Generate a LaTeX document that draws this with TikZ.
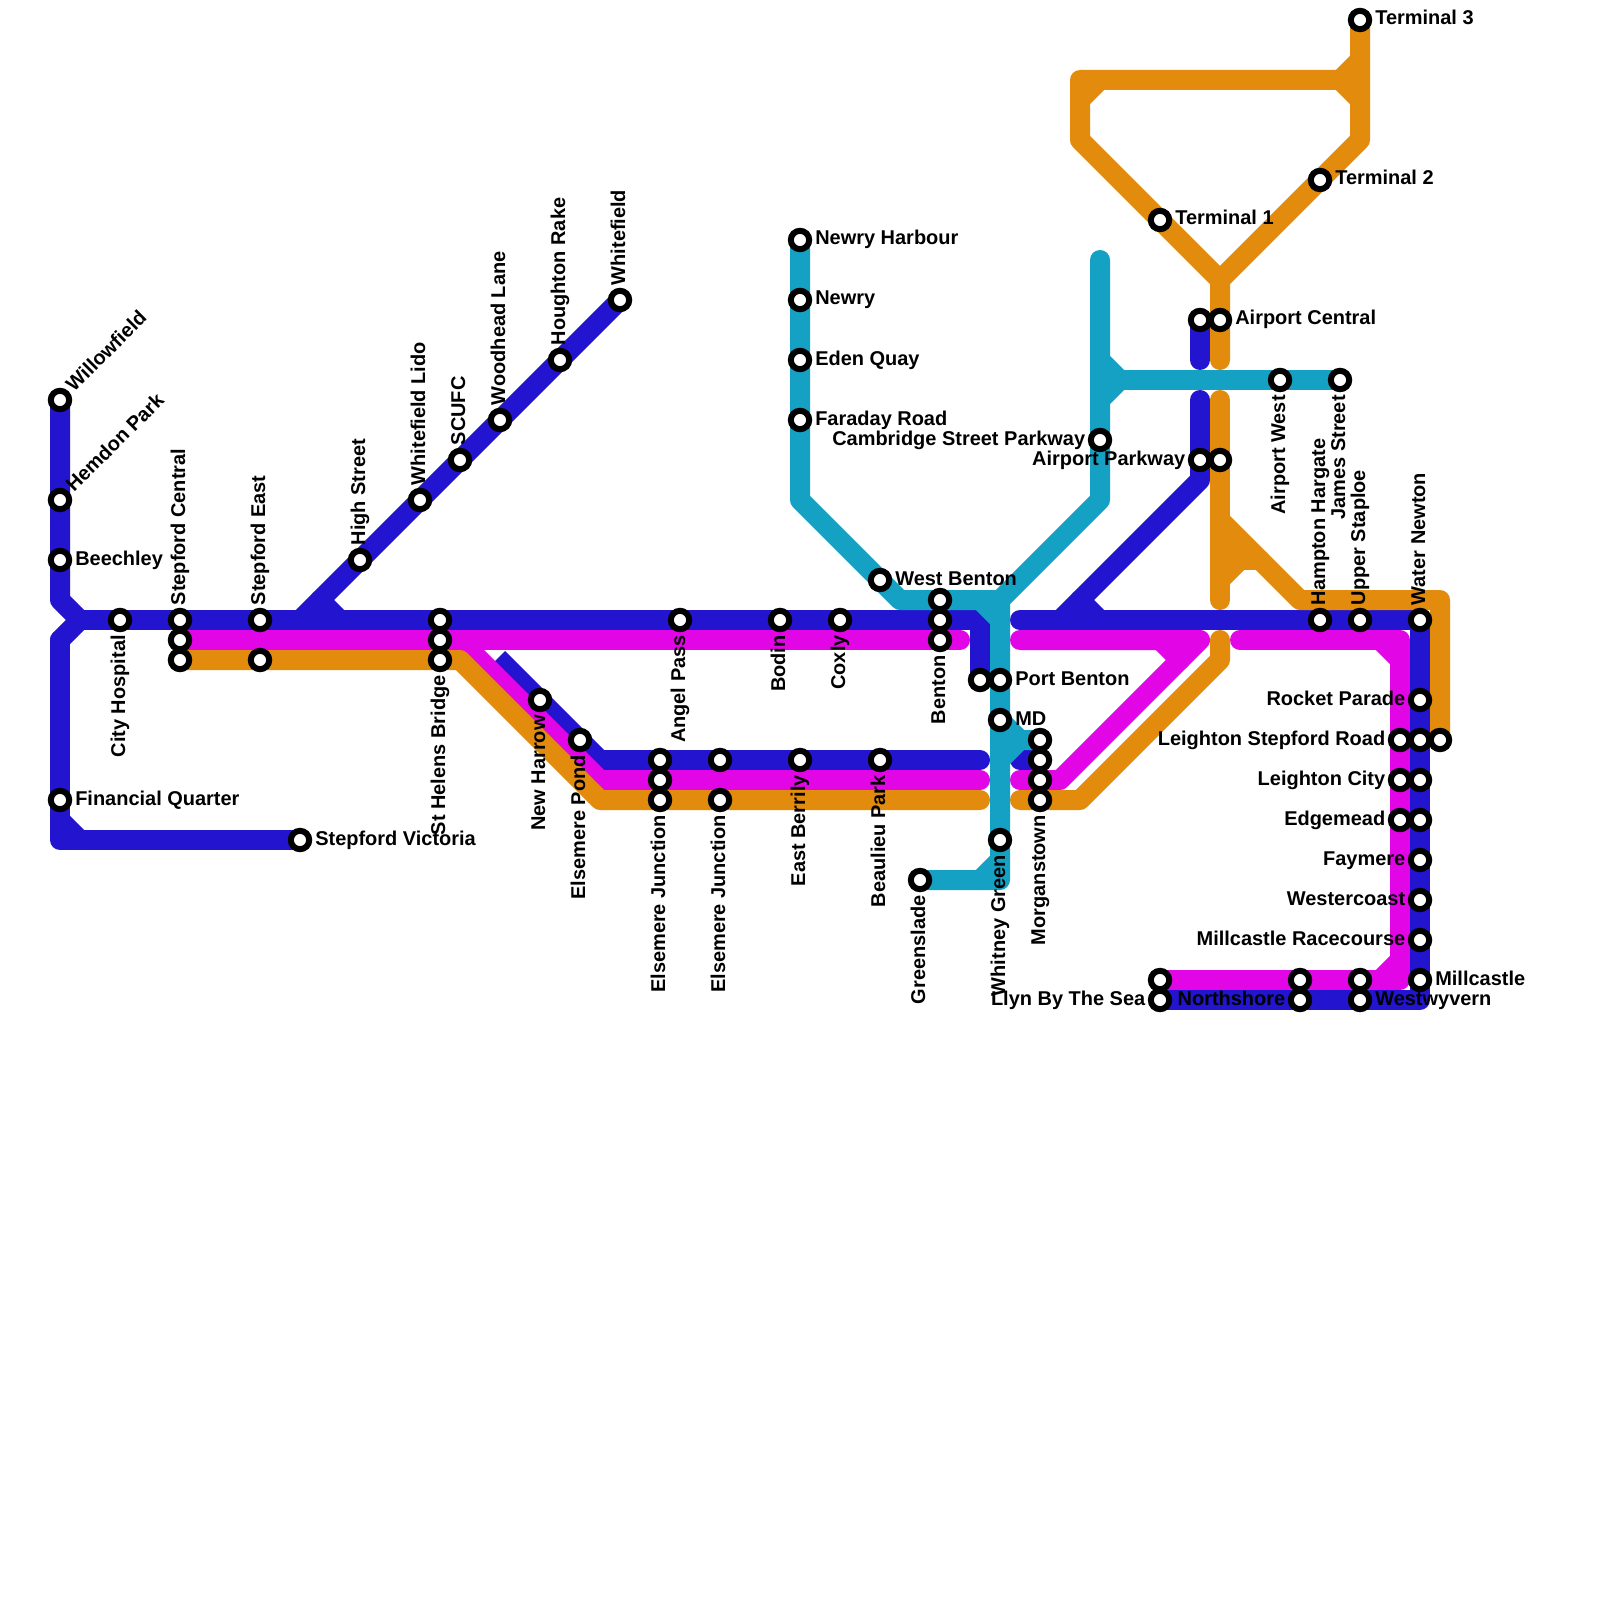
\documentclass[tikz,border=0pt]{standalone}
\usepackage{fontspec}
\setmainfont{Liberation Sans}
\usetikzlibrary{backgrounds}
\definecolor{lineblue}{HTML}{2314D0}
\definecolor{linepink}{HTML}{E205E5}
\definecolor{lineorange}{HTML}{E38B0D}
\definecolor{lineteal}{HTML}{15A1C4}

\begin{document}
\begin{tikzpicture}[
  x=0.25mm, y=-0.25mm,
  font=\bfseries\fontsize{14.2}{17}\selectfont,
  % Track styles
  track/.style={line width=5mm, line cap=round, line join=round},
  blueline/.style={track, draw=lineblue},
  pinkline/.style={track, draw=linepink},
  orangeline/.style={track, draw=lineorange},
  tealline/.style={track, draw=lineteal},
  % Station and label styles
  stn/.style={circle, draw=black, fill=white, line width=1.5mm, minimum size=4.6mm, inner sep=0pt},
  lblR/.style={anchor=base west, inner sep=0pt},
  lblL/.style={anchor=base east, inner sep=0pt},
  lblA/.style={anchor=base west, inner sep=0pt, rotate=90},
  lblB/.style={anchor=base east, inner sep=0pt, rotate=90},
  lblD/.style={anchor=base west, inner sep=0pt, rotate=45}
]
  \useasboundingbox (0,0) rectangle (1600,1600);

  % =============================================================
  % Stations, by the side their label sits on
  % =============================================================
  % label on the right
  \foreach \id/\px/\py/\txt in {beech/60/560/Beechley, finq/60/800/Financial Quarter,
      stvic/300/840/Stepford Victoria, wben/880/580/West Benton, nharb/800/240/Newry Harbour,
      newry/800/300/Newry, eden/800/360/Eden Quay, farad/800/420/Faraday Road,
      pben/1000/680/Port Benton, md/1000/720/MD, acen/1220/320/Airport Central,
      tone/1160/220/Terminal 1, ttwo/1320/180/Terminal 2, tthree/1360/20/Terminal 3,
      mill/1420/980/Millcastle, wwyv/1360/1000/Westwyvern}{
    \node[stn] (s\id) at (\px,\py) {};
    \node[lblR] (t\id) at ([shift={(15,5)}]s\id.center) {\txt};
  }
  % label on the left
  \foreach \id/\px/\py/\txt in {camb/1100/440/Cambridge Street Parkway, apark/1200/460/Airport Parkway,
      rock/1420/700/Rocket Parade, lstep/1400/740/Leighton Stepford Road, lcity/1400/780/Leighton City,
      edge/1400/820/Edgemead, fay/1420/860/Faymere, west/1420/900/Westercoast,
      mrace/1420/940/Millcastle Racecourse, nshore/1300/1000/Northshore, llyn/1160/1000/Llyn By The Sea}{
    \node[stn] (s\id) at (\px,\py) {};
    \node[lblL] (t\id) at ([shift={(-14.5,5)}]s\id.center) {\txt};
  }
  % label going up
  \foreach \id/\px/\py/\txt in {scen/180/620/Stepford Central, seast/260/620/Stepford East,
      high/360/560/High Street, wlido/420/500/Whitefield Lido, scufc/460/460/SCUFC,
      wood/500/420/Woodhead Lane, hough/560/360/Houghton Rake, wfield/620/300/Whitefield,
      hamp/1320/620/Hampton Hargate, upper/1360/620/Upper Staploe, water/1420/620/Water Newton}{
    \node[stn] (s\id) at (\px,\py) {};
    \node[lblA] (t\id) at ([shift={(5,-14.5)}]s\id.center) {\txt};
  }
  % label going down
  \foreach \id/\px/\py/\txt in {city/120/620/City Hospital, sthel/440/660/St Helens Bridge,
      angel/680/620/Angel Pass, nharr/540/700/New Harrow, epond/580/740/Elsemere Pond,
      ejone/660/800/Elsemere Junction, ejtwo/720/800/Elsemere Junction, berr/800/760/East Berrily,
      beau/880/760/Beaulieu Park, bodin/780/620/Bodin, coxly/840/620/Coxly, bent/940/640/Benton,
      green/920/880/Greenslade, whit/1000/840/Whitney Green, morg/1040/800/Morganstown,
      awest/1280/380/Airport West, james/1340/380/James Street}{
    \node[stn] (s\id) at (\px,\py) {};
    \node[lblB] (t\id) at ([shift={(5,15)}]s\id.center) {\txt};
  }
  % label on the slant
  \foreach \id/\px/\py/\txt in {willow/60/400/Willowfield, hemd/60/500/Hemdon Park}{
    \node[stn] (s\id) at (\px,\py) {};
    \node[lblD] (t\id) at ([shift={(14,-7)}]s\id.center) {\txt};
  }
  % second platforms, no label
  \foreach \id/\px/\py in {scenb/180/640, scenc/180/660, seastb/260/660, sthela/440/620, sthelb/440/640,
      ejonea/660/760, ejoneb/660/780, ejtwoa/720/760, benta/940/600, bentb/940/620,
      morga/1040/740, morgb/1040/760, morgc/1040/780, pbenb/980/680, acenb/1200/320, aparkb/1220/460,
      lstepb/1420/740, lstepc/1440/740, lcityb/1420/780, edgeb/1420/820,
      llynb/1160/980, nshoreb/1300/980, wwyvb/1360/980}{
    \node[stn] (s\id) at (\px,\py) {};
  }

  % free line ends
  \coordinate (bluewest) at (80,620);
  \coordinate (bluespur) at (498,658);
  \coordinate (blueeast) at (1020,620);
  \coordinate (bluemid) at (980,760);
  \coordinate (bluestub) at (1020,760);
  \coordinate (pinkmain) at (960,640);
  \coordinate (pinkeast) at (1020,640);
  \coordinate (pinkmid) at (980,780);
  \coordinate (pinklow) at (1020,780);
  \coordinate (pinkright) at (1240,640);
  \coordinate (orangemid) at (980,800);
  \coordinate (orangestub) at (1220,640);
  \coordinate (orangeup) at (1220,360);
  \coordinate (orangedown) at (1220,400);
  \coordinate (orangefoot) at (1220,600);
  \coordinate (tealnorth) at (1100,260);

  \begin{scope}[on background layer]
    \fill[white] (0,0) rectangle (1600,1600);

    % =============================================================
    % Blue
    % =============================================================
    \draw[blueline] (swillow.center) -- (60,600) -- (bluewest);
    \draw[blueline] (60,640) -- (bluewest);
    \draw[blueline] (60,640) -- (60,840) -- (sstvic.center);
    \draw[blueline] (60,820) -- (80,840);
    \draw[blueline] (bluewest) -- (980,620) -- (spbenb.center);
    \draw[blueline] (swfield.center) -- (320,600) -- (300,620);
    \draw[blueline] (320,600) -- (340,620);
    \draw[blueline, line cap=butt] (bluespur) -- (600,760);
    \draw[blueline] (600,760) -- (bluemid);
    \draw[blueline] (bluestub) -- (smorgb.center);
    \draw[blueline] (sacenb.center) -- (1200,360);
    \draw[blueline] (1200,400) -- (1200,480) -- (1060,620);
    \draw[blueline] (1080,600) -- (1100,620);
    \draw[blueline] (blueeast) -- (1420,620) -- (1420,1000) -- (sllyn.center);

    % =============================================================
    % Pink
    % =============================================================
    \draw[pinkline] (sscenb.center) -- (pinkmain);
    \draw[pinkline] (460,640) -- (600,780) -- (pinkmid);
    \draw[pinkline] (pinkeast) -- (1200,640) -- (1060,780) -- (pinklow);
    \draw[pinkline] (1160,640) -- (1180,660);
    \draw[pinkline] (pinkright) -- (1400,640) -- (1400,980) -- (sllynb.center);
    \draw[pinkline] (1380,640) -- (1400,660);
    \draw[pinkline] (1400,960) -- (1380,980);

    % =============================================================
    % Orange
    % =============================================================
    \draw[orangeline] (sscenc.center) -- (460,660) -- (600,800) -- (orangemid);
    \draw[orangeline] (1020,800) -- (1080,800) -- (1220,660) -- (orangestub);
    \draw[orangeline] (orangedown) -- (orangefoot);
    \draw[orangeline] (1220,520) -- (1300,600) -- (1440,600) -- (slstepc.center);
    \draw[orangeline] (1220,560) -- (1260,560);
    \draw[orangeline] (1240,560) -- (1220,580);
    \fill[lineorange] (1220,520) -- (1260,560) -- (1220,560) -- cycle;
    % airport loop
    \draw[orangeline] (orangeup) -- (1220,280) -- (1360,140) -- (stthree.center);
    \draw[orangeline] (1220,280) -- (1080,140) -- (1080,80) -- (1360,80);
    \draw[orangeline] (1080,100) -- (1100,80);
    \draw[orangeline] (1340,80) -- (1360,60);
    \draw[orangeline] (1340,80) -- (1360,100);

    % =============================================================
    % Teal
    % =============================================================
    \draw[tealline] (snharb.center) -- (800,500) -- (900,600) -- (1000,600) -- (1000,880) -- (sgreen.center);
    \draw[tealline] (tealnorth) -- (1100,500) -- (1000,600);
    \draw[tealline] (980,600) -- (1000,620);
    \draw[tealline] (1000,860) -- (980,880);
    \draw[tealline] (smd.center) -- (1020,740) -- (smorga.center);
    \draw[tealline] (1000,760) -- (1020,740);
    \draw[tealline] (1100,380) -- (sjames.center);
    \draw[tealline] (1100,360) -- (1120,380);
    \draw[tealline] (1120,380) -- (1100,400);
  \end{scope}
\end{tikzpicture}
\end{document}
